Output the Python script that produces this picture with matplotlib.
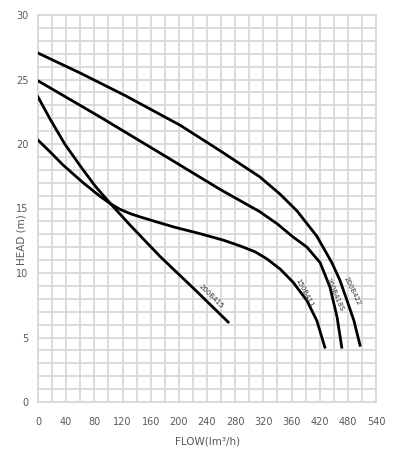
import matplotlib
matplotlib.use('Agg')
import matplotlib.pyplot as plt
import numpy as np

# Pump curves: flow (m3/h) vs head (m)
flow_422 = [0, 60, 124, 202, 258, 315, 344, 372, 414, 446, 463, 478, 493, 506]
head_422 = [27.05, 25.5, 23.75, 21.45, 19.5, 17.45, 16.1, 14.8, 12.85, 10.8, 9.45, 7.9, 6.3, 4.4]

flow_418 = [0, 88, 187, 258, 315, 340, 363, 393, 421, 442, 457, 467]
head_418 = [24.9, 22.1, 18.85, 16.5, 14.75, 13.8, 12.8, 12.0, 10.8, 8.9, 6.6, 4.25]

flow_411 = [0, 17, 35, 64, 88, 102, 116, 131, 145, 166, 194, 230, 263, 287, 308, 325,
            344, 363, 393, 414, 431]
head_411 = [20.3, 19.4, 18.4, 17.0, 15.95, 15.4, 14.95, 14.6, 14.35, 14.0, 13.55, 13.05,
            12.55, 12.1, 11.65, 11.1, 10.3, 9.3, 7.85, 6.3, 4.25]

flow_415 = [0, 17, 38, 60, 81, 105, 131, 173, 223, 270]
head_415 = [23.65, 21.95, 20.0, 18.3, 16.75, 15.25, 13.7, 11.3, 8.7, 6.2]

curve_names = ['200B415', '150B411', '200B418S', '200B422']
label_flow = [246, 387, 451, 489]
label_head = [8.15, 8.45, 8.3, 8.6]
label_rot = [-44, -62, -66, -64]

xticks = [0, 40, 80, 120, 160, 200, 240, 280, 320, 360, 420, 480, 540]
xminor = [20, 60, 100, 140, 180, 220, 260, 300, 340, 390, 450, 510]

# the flow axis is stretched: 40 per step up to 360, then 60 per step
def fwd(x):
    return np.interp(x, [0, 360, 540], [0, 9, 12])

def inv(x):
    return np.interp(x, [0, 9, 12], [0, 360, 540])

plt.rcParams['font.family'] = ['Liberation Sans Narrow', 'DejaVu Sans']

fig = plt.figure(figsize=(3.93, 4.63), dpi=100)
ax = fig.add_axes([38 / 393, 1 - 402 / 463, (376 - 38) / 393, (402 - 15) / 463])

ax.set_xscale('function', functions=(fwd, inv))
ax.set_xlim(0, 540)
ax.set_ylim(0, 30)

ax.set_xticks(xticks)
ax.set_xticklabels([str(v) for v in xticks])
ax.set_xticks(xminor, minor=True)
ax.set_yticks(range(0, 31, 5))
ax.set_yticks(range(0, 31), minor=True)

grid_col = '#d9d9d9'
ax.grid(True, which='both', color=grid_col, linewidth=1.3)
ax.set_axisbelow(True)
for s in ax.spines.values():
    s.set_color(grid_col)
    s.set_linewidth(1.3)

ax.tick_params(which='both', length=0, colors='#595959', labelsize=7)
ax.tick_params(axis='x', pad=11)
ax.tick_params(axis='y', pad=7)

for fl, hd in [(flow_422, head_422), (flow_418, head_418),
               (flow_411, head_411), (flow_415, head_415)]:
    ax.plot(fl, hd, color='black', linewidth=2.0, solid_joinstyle='round', zorder=3)

for name, lx, ly, rot in zip(curve_names, label_flow, label_head, label_rot):
    ax.text(lx, ly, name, fontsize=5, color='#333333', rotation=rot,
            ha='center', va='center', rotation_mode='anchor', zorder=4)

fig.text(22 / 393, 1 - 240 / 463, 'HEAD (m)', rotation=90, ha='center', va='center',
         fontsize=7.5, color='#595959')
fig.text(208 / 393, 1 - 441 / 463, 'FLOW(lm\u00b3/h)', ha='center', va='center',
         fontsize=7.5, color='#595959')

fig.savefig('out.png', dpi=100, facecolor='white')
